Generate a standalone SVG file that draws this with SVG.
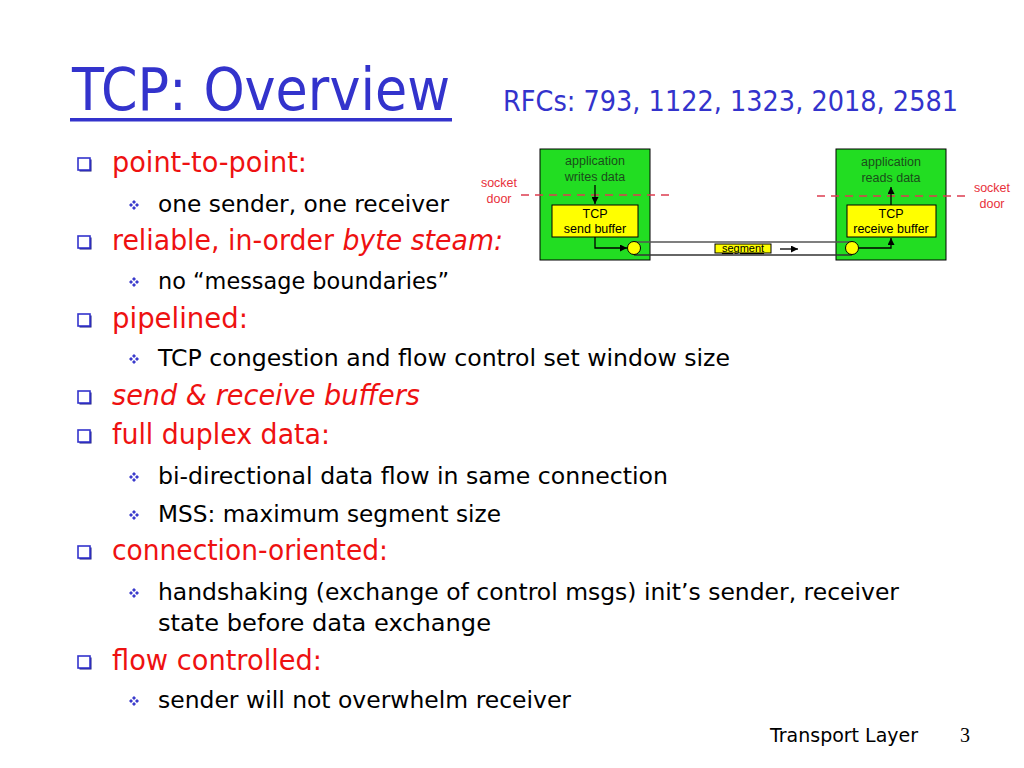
<svg xmlns="http://www.w3.org/2000/svg" width="1024" height="768" viewBox="0 0 1024 768">
<style>
.title{font-family:"DejaVu Sans",sans-serif;fill:#3333cc}
.l1{font-family:"DejaVu Sans",sans-serif;font-size:27.5px;fill:#ee1111}
.l2{font-family:"DejaVu Sans",sans-serif;font-size:23.5px;fill:#000}
.it{font-style:italic}
.sm{font-family:"Liberation Sans",Arial,sans-serif;font-size:12.5px;text-anchor:middle}
.app{fill:#1a4d1a}
.red{fill:#e8303a}
.green{fill:#22dd22;stroke:#000;stroke-width:1}
.yellow{fill:#ffff00;stroke:#000;stroke-width:1}
.conn{fill:none;stroke:#000;stroke-width:1.3}
.dash{stroke:#dd3c50;stroke-width:1.3;stroke-dasharray:8,6;fill:none}
</style>
<defs>
<marker id="ah" viewBox="0 0 10 10" refX="10" refY="5" markerWidth="7" markerHeight="7" markerUnits="userSpaceOnUse" orient="auto">
<path d="M0,0 L10,5 L0,10 z" fill="#000"/>
</marker>
<g id="sq">
<rect x="1.5" y="1.5" width="12" height="12" fill="#1a1a80"/>
<rect x="0" y="0" width="12" height="12" fill="#fff" stroke="#3333cc" stroke-width="1.6"/>
</g>
<g id="dm" fill="#3a3acc">
<path d="M0,-5 L2,-3 L0,-1 L-2,-3 z"/>
<path d="M0,5 L2,3 L0,1 L-2,3 z"/>
<path d="M-5,0 L-3,2 L-1,0 L-3,-2 z"/>
<path d="M5,0 L3,2 L1,0 L3,-2 z"/>
</g>
</defs>
<rect width="1024" height="768" fill="#fff"/>

<g id="title">
<text class="title" x="72" y="110" font-size="58" textLength="378" lengthAdjust="spacingAndGlyphs">TCP: Overview</text>
<rect x="70" y="118" width="382" height="3.5" fill="#3333cc"/>
<text class="title" x="503" y="111" font-size="29" textLength="455" lengthAdjust="spacingAndGlyphs">RFCs: 793, 1122, 1323, 2018, 2581</text>
</g>

<g id="bullets">
<use href="#sq" x="78" y="158"/>
<text class="l1" x="112" y="172" textLength="195" lengthAdjust="spacingAndGlyphs">point-to-point:</text>
<use href="#dm" x="134" y="205"/>
<text class="l2" x="158" y="212" textLength="291" lengthAdjust="spacingAndGlyphs">one sender, one receiver</text>
<use href="#sq" x="78" y="236"/>
<text class="l1" x="112" y="250" textLength="391" lengthAdjust="spacingAndGlyphs">reliable, in-order <tspan class="it">byte steam:</tspan></text>
<use href="#dm" x="134" y="282"/>
<text class="l2" x="158" y="289" textLength="291" lengthAdjust="spacingAndGlyphs">no “message boundaries”</text>
<use href="#sq" x="78" y="314"/>
<text class="l1" x="112" y="328" textLength="136" lengthAdjust="spacingAndGlyphs">pipelined:</text>
<use href="#dm" x="134" y="359"/>
<text class="l2" x="158" y="366" textLength="572" lengthAdjust="spacingAndGlyphs">TCP congestion and flow control set window size</text>
<use href="#sq" x="78" y="391"/>
<text class="l1 it" x="112" y="405" textLength="308" lengthAdjust="spacingAndGlyphs">send &amp; receive buffers</text>
<use href="#sq" x="78" y="430"/>
<text class="l1" x="112" y="444" textLength="218" lengthAdjust="spacingAndGlyphs">full duplex data:</text>
<use href="#dm" x="134" y="477"/>
<text class="l2" x="158" y="484" textLength="510" lengthAdjust="spacingAndGlyphs">bi-directional data flow in same connection</text>
<use href="#dm" x="134" y="515"/>
<text class="l2" x="158" y="522" textLength="343" lengthAdjust="spacingAndGlyphs">MSS: maximum segment size</text>
<use href="#sq" x="78" y="546"/>
<text class="l1" x="112" y="560" textLength="276" lengthAdjust="spacingAndGlyphs">connection-oriented:</text>
<use href="#dm" x="134" y="593"/>
<text class="l2" x="158" y="600" textLength="741" lengthAdjust="spacingAndGlyphs">handshaking (exchange of control msgs) init’s sender, receiver</text>
<text class="l2" x="158" y="631" textLength="333" lengthAdjust="spacingAndGlyphs">state before data exchange</text>
<use href="#sq" x="78" y="656"/>
<text class="l1" x="112" y="670" textLength="210" lengthAdjust="spacingAndGlyphs">flow controlled:</text>
<use href="#dm" x="134" y="701"/>
<text class="l2" x="158" y="708" textLength="413" lengthAdjust="spacingAndGlyphs">sender will not overwhelm receiver</text>
</g>

<g id="sender">
<rect class="green" x="540" y="149" width="110" height="111"/>
<text class="sm app" x="595" y="165">application</text>
<text class="sm app" x="595" y="181">writes data</text>
<rect class="yellow" x="552" y="205" width="86" height="32"/>
<text class="sm" x="595" y="218">TCP</text>
<text class="sm" x="595" y="233">send buffer</text>
</g>

<g id="receiver">
<rect class="green" x="836" y="149" width="110" height="111"/>
<text class="sm app" x="891" y="166">application</text>
<text class="sm app" x="891" y="182">reads data</text>
<rect class="yellow" x="847" y="205" width="89" height="32"/>
<text class="sm" x="891" y="218">TCP</text>
<text class="sm" x="891" y="233">receive buffer</text>
</g>

<g id="socket-left">
<text class="sm red" x="499" y="187">socket</text>
<text class="sm red" x="499" y="203">door</text>
</g>
<g id="socket-right">
<text class="sm red" x="992" y="192">socket</text>
<text class="sm red" x="992" y="208">door</text>
</g>

<g id="connectors">
<line class="dash" x1="521" y1="195" x2="670" y2="195"/>
<line class="dash" x1="817" y1="196" x2="966" y2="196"/>
<line class="conn" x1="595" y1="185" x2="595" y2="204" marker-end="url(#ah)"/>
<polyline class="conn" points="595,237 595,248 627,248" marker-end="url(#ah)"/>
<line x1="634" y1="242" x2="852" y2="242" stroke="#555" stroke-width="1.5"/>
<line x1="634" y1="255" x2="852" y2="255" stroke="#333" stroke-width="1.5"/>
<polyline class="conn" points="859,248 891,248 891,238" marker-end="url(#ah)"/>
<line class="conn" x1="891" y1="205" x2="891" y2="187" marker-end="url(#ah)"/>
<line class="conn" x1="780" y1="249" x2="798" y2="249" marker-end="url(#ah)"/>
</g>

<g id="circles">
<circle cx="634" cy="248" r="6.5" fill="#ffff00" stroke="#000" stroke-width="1"/>
<circle cx="852" cy="248" r="6.5" fill="#ffff00" stroke="#000" stroke-width="1"/>
</g>

<g id="segment">
<rect class="yellow" x="715" y="244" width="56" height="9"/>
<text x="743" y="252" font-family="Liberation Sans,Arial,sans-serif" font-size="11" text-anchor="middle" text-decoration="underline">segment</text>
</g>

<g id="footer">
<text x="770" y="742" font-family="DejaVu Sans,sans-serif" font-size="20" textLength="148" lengthAdjust="spacingAndGlyphs">Transport Layer</text>
<text x="960" y="742" font-family="Liberation Serif,serif" font-size="20">3</text>
</g>
</svg>
